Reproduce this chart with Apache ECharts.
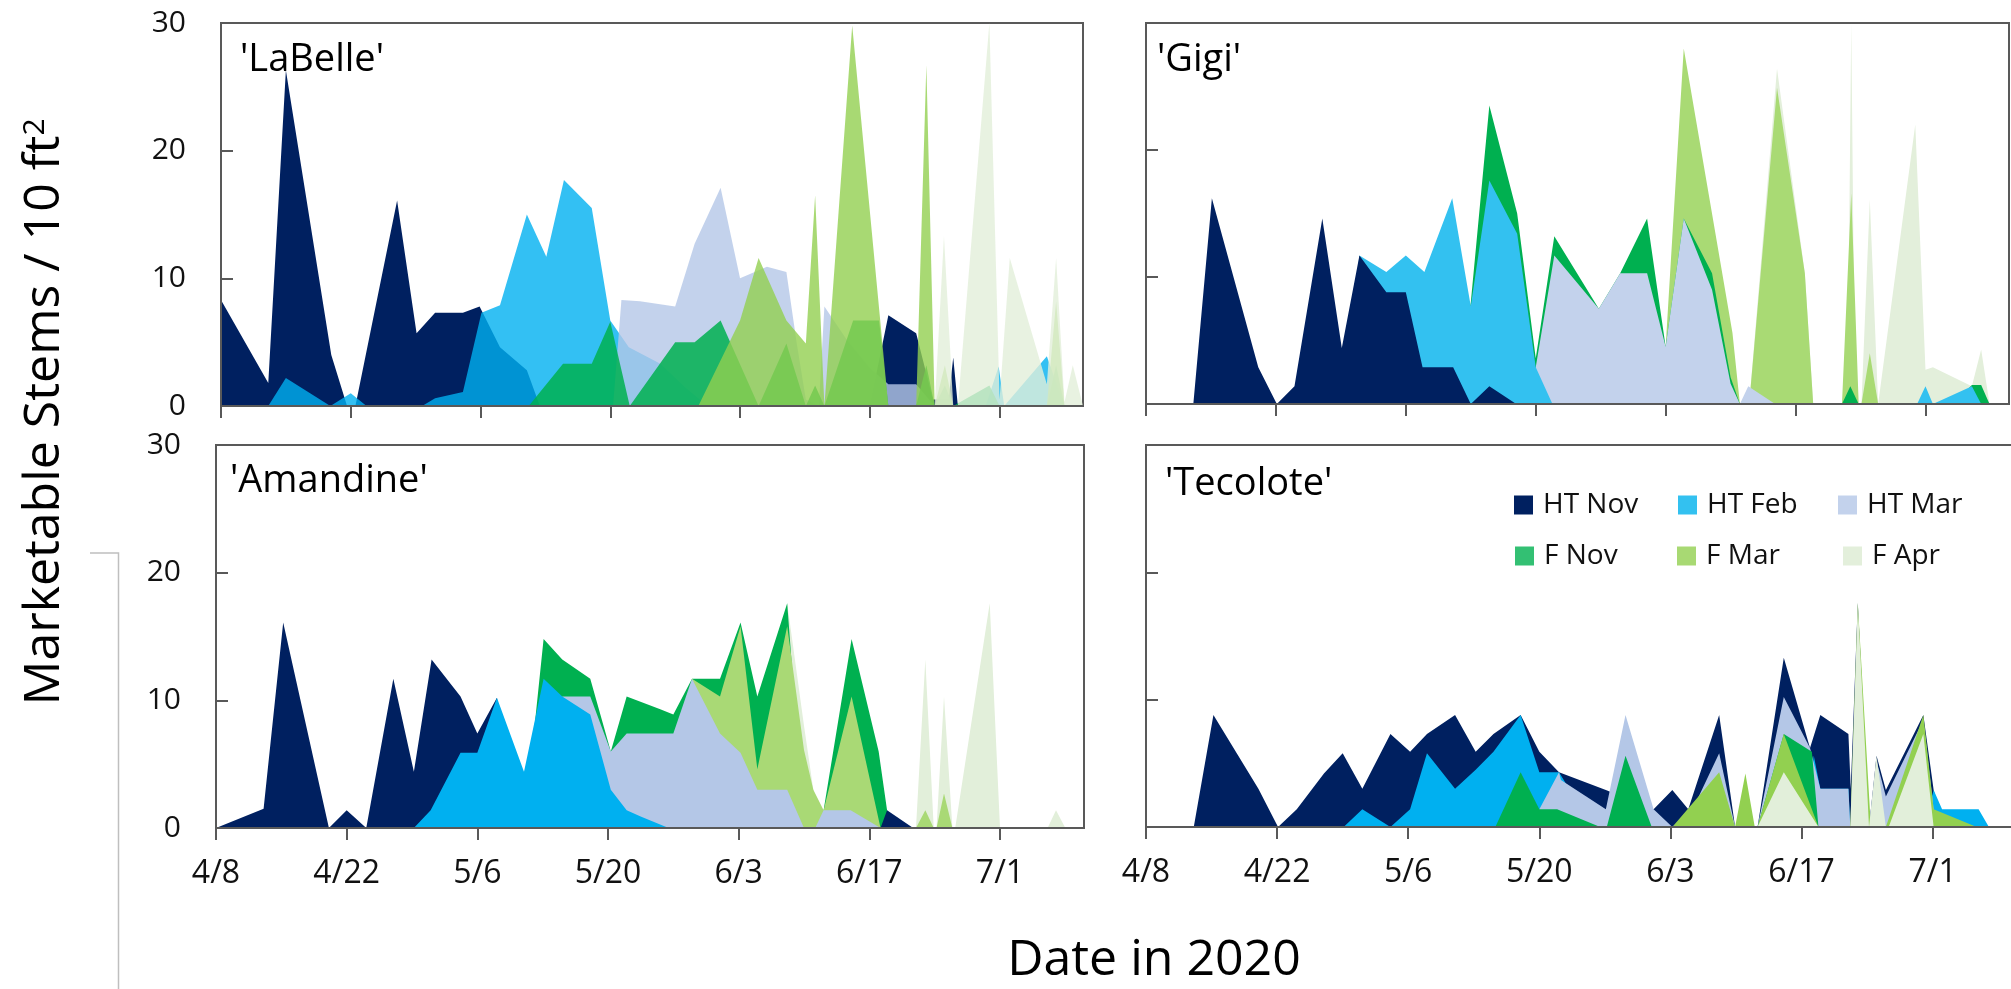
<!DOCTYPE html>
<html><head><meta charset="utf-8">
<script src="https://cdn.jsdelivr.net/npm/echarts@6/dist/echarts.min.js"></script>
<style>html,body{margin:0;padding:0;background:#fff}#c{width:2011px;height:989px}</style>
</head><body><div id="c"></div>
<script>
// ---------- data (x = days after 4/8/2020, y = marketable stems / 10 ft2) ----------
const seriesNames = ['HT Nov','HT Feb','HT Mar','F Nov','F Mar','F Apr'];
const panelNames = ["'LaBelle'","'Gigi'","'Amandine'","'Tecolote'"];
const xTickDays = [0,14,28,42,56,70,84];
const xTickLabels = ['4/8','4/22','5/6','5/20','6/3','6/17','7/1'];
const yTicks = [0,10,20,30];
const dayMax = 93;

const labelleHTNov = [[0,8.3],[5.1,1.8],[7,26.3],[11.9,4.0],[13.6,0],[14.5,0],[19,16.1],[21.1,5.7],[23.1,7.3],[26.1,7.3],[27.9,7.8],[30.1,4.6],[33,2.8],[34.4,0],[70,0],[72,7.1],[75,5.7],[76.8,0.5],[78.5,0.5],[79,3.8],[79.5,0]];
const labelleHTFeb = [[0,0],[5.1,0],[7,2.2],[11.8,0],[14,1.0],[15.7,0],[21.7,0],[23.1,0.6],[26.1,1.1],[28.1,7.3],[30.1,7.9],[33,15.0],[35.1,11.7],[37,17.7],[40,15.5],[42,6.7],[44,4.6],[47.4,3.3],[50,1.5],[52.5,0],[82.5,0],[83.9,3.1],[84.5,0],[89.1,3.9],[91,0]];
const labelleHTMar = [[42.3,0],[43.2,8.3],[45.2,8.2],[49,7.8],[51.1,12.7],[53.9,17.1],[56,10.0],[58.9,10.9],[61,10.5],[62.1,5.0],[63.1,0.5],[64.5,0],[65.1,7.8],[67.5,5.2],[70,3.0],[72,1.7],[75,1.7],[77,0]];
const labelleFNov = [[33.2,0],[36.9,3.3],[40,3.3],[42,6.6],[44.1,0],[49,5.0],[51.1,5.0],[53.9,6.7],[58,0],[61,4.9],[63.1,0],[64.1,1.6],[65.1,0],[68.2,6.7],[71,6.7],[72,0],[75,0],[76.1,3.2],[77,0],[78.1,1.6],[79,0],[82.9,1.6],[84,0],[89.1,0],[90.1,3.2],[91,0]];
const labelleFMar = [[51.5,0],[56,6.7],[58,11.6],[61,6.7],[63.1,4.9],[64.1,16.5],[65.1,0],[68.1,29.8],[72,0],[75,0],[76.1,26.7],[77,0],[78.1,3.2],[79,0],[89.1,0],[90.1,8.2],[91,0]];
const labelleFApr = [[77,0],[78,13.3],[79,0],[79.5,0],[82.9,30],[84,0.5],[85.1,11.6],[89.1,1.7],[90.1,11.6],[91,0.3],[91.9,3.2],[93,0]];

const gigiHTNov = [[0,0],[5.1,0],[7.1,16.2],[12.1,2.9],[14.1,0],[16,1.4],[19,14.6],[21.1,4.4],[23,11.7],[25.9,8.8],[28,8.8],[29.8,2.9],[33.1,2.9],[35,0],[37,1.4],[39.9,0]];
const gigiHTFeb = [[21.1,0],[23,11.7],[25.9,10.4],[28,11.7],[30,10.4],[33,16.2],[35,7.7],[37,17.6],[40,13.4],[42,2.9],[43.8,0],[83.1,0],[84,1.4],[84.8,0],[89,1.4],[90,0]];
const gigiHTMar = [[40,0],[42,2.9],[44,11.7],[48.8,7.5],[51.1,10.3],[54,10.3],[56,4.5],[57.95,14.6],[61,9.0],[63,1.6],[64,0],[64.9,1.4],[67.8,0]];
const gigiFNov = [[33,0],[35,8.0],[37,23.5],[40,15.0],[42,3.6],[44,13.2],[48.8,7.5],[51.1,10.3],[54,14.6],[56,4.5],[57.95,14.6],[61,10.3],[63,2.1],[64,0],[75,0],[75.9,1.4],[76.8,0],[87,0],[89,1.5],[90,1.5],[90.9,0]];
const gigiFMar = [[54,0],[56,4.5],[57.95,28.0],[63.2,5.6],[64,0],[65,0],[68,24.9],[71,10.3],[71.9,0],[75,0],[76,16.6],[76.8,0],[77.1,0],[78,4.0],[78.9,0]];
const gigiFApr = [[65,0],[68,26.4],[71,10.3],[71.9,0],[75.6,0],[76,30],[76.4,0],[77.1,0],[78,16.1],[78.9,0],[79.1,0],[82.9,22.0],[84,2.7],[84.8,2.9],[89,1.4],[90,4.3],[90.9,0]];

const amandineHTNov = [[0,0],[5.1,1.5],[7.2,16.1],[12.1,0],[14,1.4],[16.1,0],[19,11.7],[21.2,4.4],[23.1,13.2],[26.2,10.3],[28,7.4],[30.1,10.2],[32,0],[71.2,0],[71.9,1.4],[74.7,0]];
const amandineHTFeb = [[21.2,0],[23,1.4],[26.2,5.9],[28,5.9],[30.1,10.2],[33,4.4],[35.1,11.7],[37.1,10.3],[40.1,8.9],[42.3,3.0],[44,1.4],[45.5,0.9],[48.5,0]];
const amandineHTMar = [[35,0],[37.1,10.3],[40.1,10.3],[42.3,6.0],[44,7.4],[49,7.4],[51,11.7],[54,7.4],[56.2,5.9],[58,3.0],[61.2,3.0],[63,0],[64.2,0],[65.1,1.4],[68,1.4],[71.2,0]];
const amandineFNov = [[33,0],[35.1,14.8],[37.1,13.2],[40.1,11.7],[42.3,6.0],[44,10.3],[47.6,9.3],[49,8.9],[51,11.7],[54,11.7],[56.2,16.1],[58,10.3],[61.2,17.6],[63,0],[65.1,1.4],[68.1,14.8],[71,6.0],[71.9,1.4],[72.1,0]];
const amandineFMar = [[49,0],[51,11.7],[54,10.3],[56.2,15.8],[58,4.6],[61.2,15.8],[63,6.1],[64,3.0],[65.1,1.4],[68.1,10.3],[71.2,0],[75,0],[76,1.4],[76.9,0],[77.2,0],[78,2.7],[78.9,0]];
const amandineFApr = [[59,0],[61.2,17.6],[63,8.0],[64,3.0],[65,0],[75,0],[76,13.2],[76.9,0],[77.2,0],[78,10.3],[78.9,0],[79.2,0],[82.9,17.6],[84,0],[89.1,0],[90,1.4],[91,0]];

const tecoloteHTNov = [[5.1,0],[7.2,8.8],[12,3.0],[14.1,0],[16.1,1.4],[19,4.2],[21,5.8],[23.1,3.0],[26.1,7.3],[28.2,5.9],[30,7.3],[33,8.8],[35.2,5.9],[37.1,7.3],[40,8.8],[42,5.9],[44.1,4.3],[49.1,2.9],[54.2,1.4],[56.2,2.9],[57.9,1.4],[61.2,8.8],[62.9,0],[65.3,0],[68.1,13.3],[70.9,6.2],[72,8.8],[75,7.3],[75.25,3.0],[76,17.6],[77.2,0],[78,5.6],[79,2.9],[83,8.8],[84.1,2.9],[85,0]];
const tecoloteHTFeb = [[21.1,0],[23.1,1.4],[26.1,0],[28.2,1.4],[30,5.8],[33,3.0],[35.2,4.5],[37.1,5.9],[40,8.8],[42,4.3],[44.1,4.3],[46,2.0],[49,0],[70.5,0],[71.3,5.6],[72,3.0],[75,3.0],[75.2,0],[83,0],[84.1,2.9],[85,1.4],[88.9,1.4],[90,0]];
const tecoloteHTMar = [[40,0],[42,1.4],[44.1,4.3],[44.3,3.7],[49.1,1.4],[51.2,8.8],[54.2,1.4],[56.2,0],[58.5,1.6],[61.2,5.8],[62.9,0],[65.3,0],[68.1,10.2],[70.9,6.2],[72,3.0],[75,3.0],[75.2,0],[77.2,0],[78,5.2],[79,2.4],[83,8.4],[84.1,1.4],[84.5,0]];
const tecoloteFNov = [[37.3,0],[40,4.3],[42,1.4],[43.9,1.4],[48.5,0],[49.2,0],[51.2,5.6],[54,0],[65.3,0],[68.1,7.3],[71.1,5.9],[71.8,0]];
const tecoloteFMar = [[56.2,0],[61.2,4.3],[62.9,0],[63.1,0],[64,4.2],[65,0],[65.3,0],[68.1,7.3],[71.8,0],[75.2,0],[76,17.6],[77.4,0],[79,0],[83,8.8],[84.1,1.4],[84.3,1.3],[88.7,0]];
const tecoloteFApr = [[65.3,0],[68.1,4.3],[71.8,0],[75.2,0],[76,17.6],[77.2,0],[78,5.6],[79,0],[79.3,0],[83,7.3],[84.1,0]];

// ---------- styling ----------
const FONT = 'Open Sans';
const AXIS_COLOR = '#595959';
const grids = [
  {left:221, top:23, width:862, height:383},
  {left:1146, top:23, width:863, height:381},
  {left:216, top:445, width:868, height:383},
  {left:1146, top:445, width:871, height:382}
];
// [name, data, color, opacity] in drawing order (back -> front)
const panels = [
  [['HT Nov',labelleHTNov,'#002060',1],['HT Feb',labelleHTFeb,'#00B0F0',0.8],['HT Mar',labelleHTMar,'#B4C7E7',0.8],
   ['F Nov',labelleFNov,'#00B050',0.85],['F Mar',labelleFMar,'#92D050',0.8],['F Apr',labelleFApr,'#E2EFDA',0.8]],
  [['F Apr',gigiFApr,'#E3EFDB',1],['F Mar',gigiFMar,'#A9DA74',1],['F Nov',gigiFNov,'#00B050',1],
   ['HT Mar',gigiHTMar,'#C3D2EC',1],['HT Feb',gigiHTFeb,'#33C1F0',1],['HT Nov',gigiHTNov,'#002060',1]],
  [['F Apr',amandineFApr,'#E2EFDA',1],['F Nov',amandineFNov,'#00B050',1],['F Mar',amandineFMar,'#A9D975',1],
   ['HT Mar',amandineHTMar,'#B4C7E7',1],['HT Nov',amandineHTNov,'#002060',1],['HT Feb',amandineHTFeb,'#00B0F0',1]],
  [['HT Nov',tecoloteHTNov,'#002060',1],['HT Feb',tecoloteHTFeb,'#00B0F0',1],['HT Mar',tecoloteHTMar,'#B4C7E7',1],
   ['F Nov',tecoloteFNov,'#00B050',1],['F Mar',tecoloteFMar,'#92D050',1],['F Apr',tecoloteFApr,'#E2EFDA',1]]
];
const legendColors = {'HT Nov':'#002060','HT Feb':'#33C1F0','HT Mar':'#C3D2EC','F Nov':'#33C073','F Mar':'#A8D973','F Apr':'#E3EFDB'};
const legendPos = [[1514,491],[1678,491],[1838,491],[1515,542],[1677,542],[1843,542]];

const option = {
  animation:false,
  backgroundColor:'#fff',
  grid: grids.map(g => Object.assign({show:true, borderColor:AXIS_COLOR, borderWidth:2, backgroundColor:'transparent', outerBoundsMode:'none', containLabel:false}, g)),
  xAxis: grids.map((g,i) => ({
    type:'value', gridIndex:i, min:0, max:dayMax, interval:14, z:3,
    axisLine:{show:true, onZero:false, lineStyle:{color:AXIS_COLOR, width:2}},
    axisTick:{show:true, inside:false, length:12, customValues:xTickDays, lineStyle:{color:AXIS_COLOR, width:2}},
    axisLabel:{show:i>=2, customValues:xTickDays, margin:30, fontSize:32, fontFamily:FONT, color:'#111',
      formatter:v => { const k = xTickDays.indexOf(Math.round(v)); return k>=0 ? xTickLabels[k] : ''; }},
    splitLine:{show:false}
  })),
  yAxis: grids.map((g,i) => ({
    type:'value', gridIndex:i, min:yTicks[0], max:yTicks[yTicks.length-1], interval:10, z:3,
    axisLine:{show:true, lineStyle:{color:AXIS_COLOR, width:2}},
    axisTick:{show:true, inside:true, length:12, lineStyle:{color:AXIS_COLOR, width:2}},
    axisLabel:{show:i%2===0, margin:35, fontSize:30, fontFamily:FONT, color:'#111'},
    splitLine:{show:false}
  })),
  legend: seriesNames.map((n,k) => ({
    data:[{name:n, itemStyle:{color:legendColors[n]}}],
    left:legendPos[k][0], top:legendPos[k][1], padding:0, icon:'rect', itemWidth:19, itemHeight:19,
    selectedMode:false,
    textStyle:{fontSize:28, fontFamily:FONT, color:'#111', padding:[0,0,0,5]}
  })),
  series: [],
  graphic: []
};
panels.forEach((list,i) => {
  list.forEach(([name,data,color,op]) => {
    option.series.push({
      type:'line', name, data, xAxisIndex:i, yAxisIndex:i, symbol:'none', silent:true,
      lineStyle:{width:0, color}, itemStyle:{color}, areaStyle:{color, opacity:op}
    });
  });
});
const titlePos = [[240,60],[1157,60],[230,481],[1165,484]];
panelNames.forEach((t,i) => option.graphic.push({
  type:'text', x:titlePos[i][0], y:titlePos[i][1], z:10,
  style:{text:t, fontSize:38, fontFamily:FONT, fill:'#000', align:'left', verticalAlign:'middle'}
}));
option.graphic.push({
  type:'text', x:45, y:412, rotation:Math.PI/2, z:10,
  style:{text:'{a|Marketable Stems / 10 ft}{s|2}', align:'center', verticalAlign:'middle',
    rich:{a:{fontSize:50, fontFamily:FONT, fill:'#000'}, s:{fontSize:30, fontFamily:FONT, fill:'#000', verticalAlign:'top'}}}
});
option.graphic.push({
  type:'text', x:1154, y:961, z:10,
  style:{text:'Date in 2020', fontSize:50, fontFamily:FONT, fill:'#000', align:'center', verticalAlign:'middle'}
});
option.graphic.push({
  type:'polyline', z:1, shape:{points:[[90,553],[118.5,553],[118.5,989]]},
  style:{stroke:'#BFBFBF', lineWidth:1.5, fill:null}
});

const chart = echarts.init(document.getElementById('c'), null, {renderer:'canvas'});
chart.setOption(option);
</script></body></html>
